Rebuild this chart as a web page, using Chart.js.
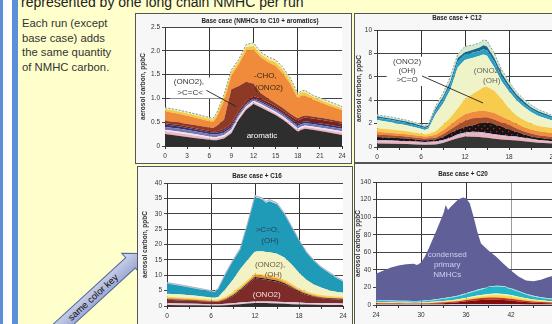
<!DOCTYPE html>
<html><head><meta charset="utf-8">
<script src="https://cdn.jsdelivr.net/npm/chart.js@4.4.1/dist/chart.umd.min.js"></script>
<style>
html,body{margin:0;padding:0;}
body{width:552px;height:324px;overflow:hidden;position:relative;background:#ffffcc;font-family:"Liberation Sans",Arial,sans-serif;}
.abs{position:absolute;}
.panel{position:absolute;box-sizing:border-box;border:1px solid #555;background:#f7f7f7;}
canvas{position:absolute;}
</style></head><body>
<div class="abs" style="left:0;top:0;width:3px;height:324px;background:#5b8fd8"></div>
<div class="abs" style="left:3px;top:0;width:9px;height:324px;background:#ffffff"></div>
<div class="abs" style="left:12px;top:0;width:6px;height:324px;background:#5b8fd8"></div>
<div class="abs" style="left:21px;top:-6px;font-size:14px;line-height:16px;color:#222;white-space:nowrap">represented by one long chain NMHC per run</div>
<div class="abs" style="left:22px;top:16px;font-size:11.3px;line-height:14.6px;color:#333;white-space:nowrap">Each run (except<br>base case) adds<br>the same quantity<br>of NMHC carbon.</div>
<svg class="abs" style="left:0;top:0" width="552" height="324">
  <defs>
    <linearGradient id="ag" gradientUnits="userSpaceOnUse" x1="0" y1="-13" x2="0" y2="13">
      <stop offset="0" stop-color="#d6dcf0"/>
      <stop offset="1" stop-color="#8f9bcb"/>
    </linearGradient>
  </defs>
  <g transform="translate(140.8,253.4) rotate(-42.5)">
    <polygon points="-230,-7 -14,-7 -14,-13 0,0 -14,13 -14,7 -230,7" fill="url(#ag)" stroke="#4f6b9e" stroke-width="1"/>
    <text x="-33" y="3.3" text-anchor="end" font-size="9.5" fill="#111" font-family="Liberation Sans, Arial, sans-serif">same color key</text>
  </g>
</svg>
<div class="panel" style="left:135px;top:13px;width:217px;height:151px"></div>
<div class="panel" style="left:354px;top:13px;width:220px;height:150px"></div>
<div class="panel" style="left:137px;top:166px;width:216px;height:170px"></div>
<div class="panel" style="left:354px;top:163px;width:220px;height:170px"></div>
<canvas id="c1" width="217" height="151" style="left:135px;top:13px"></canvas>
<canvas id="c2" width="222" height="150" style="left:354px;top:13px"></canvas>
<canvas id="c3" width="216" height="158" style="left:137px;top:166px"></canvas>
<canvas id="c4" width="222" height="161" style="left:354px;top:163px"></canvas>
<script>
// ---------- Panel 1: Base case (NMHCs to C10 + aromatics), cumulative layer tops, ppbC ----------
const p1Hours    = [0,2,4,6,6.5,7,8,9,10,11,12,13,14,15,16,17,18,18.5,19,20,22,24];
const p1Aromatic = [0.25,0.21,0.17,0.13,0.12,0.12,0.16,0.27,0.55,0.76,0.88,0.81,0.73,0.65,0.55,0.43,0.30,0.34,0.36,0.34,0.29,0.23];
const p1Pink     = [0.31,0.27,0.22,0.17,0.16,0.16,0.20,0.31,0.59,0.80,0.92,0.85,0.77,0.69,0.59,0.47,0.34,0.38,0.40,0.38,0.33,0.28];
const p1Lav      = [0.34,0.30,0.25,0.20,0.19,0.19,0.23,0.34,0.62,0.83,0.95,0.88,0.80,0.72,0.62,0.50,0.37,0.41,0.43,0.41,0.36,0.31];
const p1Blue     = [0.40,0.36,0.31,0.25,0.24,0.24,0.28,0.39,0.66,0.87,0.98,0.92,0.84,0.76,0.66,0.54,0.42,0.46,0.48,0.46,0.41,0.36];
const p1Navy     = [0.45,0.41,0.35,0.29,0.28,0.28,0.32,0.43,0.69,0.90,1.00,0.95,0.87,0.79,0.69,0.58,0.46,0.50,0.52,0.50,0.45,0.40];
const p1DarkRed  = [0.48,0.44,0.38,0.32,0.31,0.31,0.36,0.48,0.74,0.95,1.05,1.00,0.92,0.84,0.74,0.63,0.53,0.57,0.60,0.58,0.53,0.47];
const p1Brown    = [0.53,0.49,0.44,0.39,0.38,0.42,0.55,1.19,1.26,1.35,1.31,1.11,1.00,0.90,0.80,0.68,0.58,0.62,0.64,0.62,0.57,0.51];
const p1Orange   = [0.73,0.67,0.60,0.52,0.50,0.60,0.95,1.48,1.72,2.00,2.02,1.86,1.76,1.68,1.52,1.30,1.00,1.06,1.06,0.98,0.86,0.75];
const p1Gold     = [0.78,0.72,0.65,0.57,0.55,0.66,1.05,1.56,1.78,2.08,2.10,1.92,1.82,1.76,1.60,1.38,1.07,1.13,1.13,1.04,0.91,0.80];
const p1Top      = [0.81,0.75,0.68,0.60,0.58,0.69,1.08,1.60,1.82,2.13,2.17,1.97,1.87,1.81,1.65,1.43,1.10,1.16,1.17,1.07,0.95,0.83];

// ---------- Panel 2: Base case + C12 ----------
const p2Hours    = [0,2,4,6,6.5,7,8,9,10,11,12,13,14,14.5,15,16,17,18,19,20,21,22,24];
const p2Gray     = [0.30,0.28,0.25,0.20,0.19,0.20,0.22,0.35,0.55,0.75,0.90,0.88,0.85,0.82,0.78,0.70,0.65,0.60,0.55,0.50,0.42,0.36,0.30];
const p2Pink     = [0.50,0.46,0.42,0.35,0.34,0.35,0.38,0.50,0.70,0.95,1.15,1.20,1.18,1.15,1.10,1.00,0.92,0.85,0.80,0.72,0.62,0.55,0.45];
const p2Lav      = [0.60,0.55,0.50,0.45,0.43,0.44,0.48,0.60,0.80,1.10,1.25,1.30,1.28,1.25,1.20,1.10,1.00,0.95,0.90,0.80,0.70,0.60,0.50];
const p2Dots     = [0.85,0.80,0.72,0.60,0.58,0.60,0.65,0.85,1.20,1.50,1.70,1.85,2.00,2.10,2.10,1.95,1.75,1.50,1.30,1.10,0.90,0.80,0.65];
const p2Brown    = [1.05,1.00,0.90,0.75,0.72,0.74,0.80,1.10,1.50,1.90,2.25,2.45,2.50,2.55,2.55,2.35,2.10,1.90,1.60,1.35,1.15,1.00,0.85];
const p2Orange   = [1.30,1.20,1.10,0.95,0.90,0.92,1.05,1.40,1.90,2.40,2.80,3.00,3.10,3.10,3.05,2.90,2.60,2.30,2.00,1.70,1.50,1.35,1.20];
const p2Gold     = [1.60,1.50,1.35,1.15,1.10,1.12,1.35,1.90,2.50,3.30,4.10,4.50,4.90,5.10,5.15,4.80,4.10,3.30,2.70,2.30,2.00,1.80,1.60];
const p2Light    = [2.30,2.10,1.85,1.55,1.45,1.55,2.80,3.70,4.90,6.80,7.45,7.60,7.80,7.90,7.80,6.80,5.60,4.75,4.00,3.45,3.00,2.65,2.25];
const p2Teal     = [2.50,2.30,2.05,1.72,1.62,1.72,3.10,4.10,5.35,7.30,7.90,8.05,8.20,8.35,8.25,7.30,6.00,5.10,4.30,3.70,3.25,2.90,2.45];
const p2DarkTeal = [2.62,2.42,2.18,1.83,1.73,1.83,3.30,4.30,5.60,7.60,8.10,8.30,8.50,8.70,8.60,7.60,6.30,5.35,4.50,3.90,3.40,3.05,2.58];
const p2Top      = [2.75,2.55,2.30,1.95,1.85,1.95,3.50,4.60,6.00,7.90,8.60,8.70,8.90,9.15,9.10,8.00,6.60,5.60,4.70,4.10,3.60,3.20,2.70];

// ---------- Panel 3: Base case + C16 ----------
const p3Hours    = [0,2,4,6,6.5,7,8,9,10,11,12,13,13.5,14,15,16,17,18,19,20,21,22,23,24];
const p3Gray     = [0.30,0.28,0.25,0.20,0.20,0.20,0.25,0.40,0.60,0.80,0.95,0.95,0.95,0.90,0.85,0.75,0.60,0.50,0.45,0.40,0.35,0.32,0.30,0.30];
const p3Pink     = [0.60,0.55,0.50,0.40,0.40,0.40,0.50,0.65,0.85,1.00,1.20,1.20,1.20,1.20,1.10,1.00,0.90,0.80,0.75,0.70,0.65,0.60,0.60,0.60];
const p3Lav      = [0.90,0.80,0.75,0.60,0.60,0.60,0.70,0.90,1.10,1.30,1.50,1.50,1.50,1.50,1.40,1.30,1.20,1.10,1.00,0.95,0.90,0.90,0.90,0.85];
const p3Maroon   = [2.0,1.8,1.6,1.4,1.35,1.4,2.0,3.2,5.0,7.0,9.0,8.7,8.5,8.3,7.9,7.0,5.9,4.5,3.6,3.0,2.6,2.3,2.2,2.0];
const p3Black    = [2.2,2.0,1.8,1.5,1.45,1.5,2.2,3.5,5.3,7.4,9.4,9.1,8.9,8.7,8.3,7.4,6.2,4.8,3.9,3.2,2.8,2.5,2.4,2.3];
const p3Orange   = [2.6,2.4,2.1,1.8,1.7,1.8,2.6,4.0,5.8,8.0,10.2,9.8,9.6,9.5,9.0,8.0,6.7,5.2,4.3,3.6,3.1,2.8,2.7,2.6];
const p3Gold     = [3.0,2.8,2.5,2.1,2.0,2.1,3.0,4.6,6.5,8.5,10.6,10.3,10.1,10.0,9.5,8.6,7.3,5.7,4.8,4.1,3.6,3.3,3.1,3.0];
const p3Light    = [4.0,3.7,3.3,2.8,2.7,2.9,5.5,8.5,12.0,15.0,17.7,17.8,17.6,17.5,17.0,15.8,13.5,10.8,8.5,7.0,6.0,5.2,4.6,4.3];
const p3Teal     = [7.3,6.5,5.6,4.75,4.45,5.5,10.3,14.6,18.4,26.5,35.4,34.6,33.6,34.1,33.1,29.8,25.5,21.2,17.4,14.7,12.5,10.9,9.3,8.0];
const p3Top      = [7.6,6.8,5.9,5.0,4.7,5.8,10.7,15.0,18.8,27.0,35.9,35.1,34.0,34.6,33.5,30.2,25.9,21.5,17.7,15.0,12.8,11.2,9.6,8.3];

// ---------- Panel 4: Base case + C20 (second day, hours 24-48) ----------
const p4Hours    = [24,25,26,27,28,29,29.5,30,30.5,31,32,33,33.3,33.6,34,35,35.6,36,36.5,37,37.5,38,39,40,41,42,43,44,45,46,47,48];
const p4Lav      = [0.6,0.6,0.6,0.6,0.6,0.6,0.6,0.6,0.6,0.6,0.7,0.7,0.7,0.7,0.8,0.8,0.8,0.9,0.9,0.9,1.0,1.0,1.0,1.0,1.0,0.9,0.8,0.7,0.7,0.6,0.6,0.6];
const p4Maroon   = [1.5,1.4,1.3,1.3,1.2,1.2,1.2,1.2,1.3,1.4,1.7,2.0,2.2,2.3,2.5,3.1,3.6,4.0,4.5,4.9,5.3,5.6,6.0,6.0,5.7,5.0,4.1,3.3,2.7,2.3,2.0,1.8];
const p4Red      = [2.2,2.1,2.0,1.9,1.8,1.7,1.7,1.8,1.9,2.1,2.5,3.0,3.2,3.4,3.6,4.4,5.1,5.6,6.2,6.8,7.4,7.9,8.5,8.5,8.1,7.2,6.0,4.9,4.0,3.4,3.0,2.7];
const p4Gold     = [3.0,2.8,2.6,2.5,2.4,2.3,2.3,2.4,2.6,2.9,3.4,4.0,4.3,4.5,4.8,5.8,6.7,7.3,8.0,8.7,9.5,10.1,11.1,11.5,11.1,10.0,8.4,6.9,5.6,4.7,4.1,3.7];
const p4Light    = [3.4,3.2,3.0,2.9,2.8,2.7,2.7,2.8,3.0,3.3,3.9,4.6,4.9,5.2,5.5,6.6,7.6,8.3,9.1,9.9,10.8,11.5,12.6,13.0,12.6,11.3,9.5,7.8,6.3,5.3,4.6,4.2];
const p4Teal     = [4.8,4.5,4.3,4.1,4.0,3.9,3.9,4.1,4.4,4.8,5.8,7.0,7.4,7.8,8.3,10.0,11.5,12.5,13.8,15.0,16.3,17.5,19.8,21.0,20.5,18.0,15.0,12.0,9.5,8.0,6.8,6.0];
const p4LightTeal= [5.5,5.2,5.0,4.8,4.7,4.6,4.6,4.8,5.1,5.5,6.6,7.8,8.2,8.6,9.1,10.9,12.4,13.4,14.7,16.0,17.3,18.5,20.8,22.0,21.5,19.0,16.0,12.9,10.4,8.8,7.6,6.8];
const p4Purple   = [35.6,39.3,42.8,45.0,46.5,47.0,45.4,48.4,55.0,63.6,83.6,104.4,113.9,108.2,112.0,120.3,122.5,121.5,115.8,100.6,83.6,70.0,62.0,55.2,47.0,39.3,32.5,28.0,26.9,28.8,31.8,34.0];

const yTitle = 'aerosol carbon, ppbC';
const titles = ['Base case (NMHCs to C10 + aromatics)','Base case + C12','Base case + C16','Base case + C20'];

const FONT = '"Liberation Sans", Arial, sans-serif';
const CLEAR = 'rgba(0,0,0,0)';

function dotPattern(ctx){
  const c = document.createElement('canvas'); c.width = 6; c.height = 6;
  const g = c.getContext('2d');
  g.fillStyle = '#141414'; g.fillRect(0,0,6,6);
  g.fillStyle = '#c3262a'; g.fillRect(1,1,1.3,1.3); g.fillRect(4,4,1.3,1.3);
  return ctx.createPattern(c,'repeat');
}

function decor(spec){
  return {
    id: 'decor',
    beforeDraw(chart){
      const {ctx, chartArea:a} = chart;
      ctx.save(); ctx.fillStyle = '#ffffff';
      ctx.fillRect(a.left, a.top, a.right-a.left, a.bottom-a.top); ctx.restore();
    },
    afterDraw(chart){
      const {ctx} = chart; const xs = chart.scales.x, ys = chart.scales.y;
      ctx.save();
      ctx.font = 'bold 6.3px ' + FONT; ctx.fillStyle = '#222';
      ctx.textAlign = 'center'; ctx.textBaseline = 'middle';
      ctx.fillText(spec.title, spec.titlePos[0], spec.titlePos[1]);
      (spec.boxes||[]).forEach(b => {
        const x0 = xs.getPixelForValue(b[0]), y0 = ys.getPixelForValue(b[1]);
        const x1 = xs.getPixelForValue(b[2]), y1 = ys.getPixelForValue(b[3]);
        ctx.fillStyle = '#ffffff'; ctx.fillRect(x0, y0, x1-x0, y1-y0);
      });
      (spec.leaders||[]).forEach(l => {
        ctx.strokeStyle = '#222'; ctx.lineWidth = 0.9; ctx.beginPath();
        ctx.moveTo(xs.getPixelForValue(l[0]), ys.getPixelForValue(l[1]));
        ctx.lineTo(xs.getPixelForValue(l[2]), ys.getPixelForValue(l[3]));
        ctx.stroke();
      });
      (spec.labels||[]).forEach(l => {
        ctx.font = (l.size||8) + 'px ' + FONT; ctx.fillStyle = l.color;
        ctx.fillText(l.text, xs.getPixelForValue(l.x), ys.getPixelForValue(l.y));
      });
      ctx.restore();
    }
  };
}

function makeChart(id, spec){
  const cv = document.getElementById(id);
  const ctx = cv.getContext('2d');
  const W = cv.width, H = cv.height, P = spec.plot;
  const datasets = spec.layers.map((L,i) => ({
    data: spec.hours.map((t,k) => ({x:t, y:L.v[k]})),
    backgroundColor: L.c === 'DOTS' ? dotPattern(ctx) : L.c,
    borderColor: L.b || CLEAR,
    borderWidth: L.b ? (L.bw || 1) : 0,
    borderDash: L.dash || [],
    fill: i === 0 ? 'origin' : '-1',
    pointRadius: 0, tension: 0
  }));
  return new Chart(ctx, {
    type: 'line',
    data: { datasets },
    options: {
      responsive: false, animation: false, devicePixelRatio: 1,
      layout: { padding: { left: 0, top: P.top, right: W - P.right, bottom: 0 } },
      plugins: { legend: {display:false}, tooltip: {enabled:false}, title: {display:false} },
      scales: {
        x: {
          type: 'linear', min: spec.xmin, max: spec.xmax, z: 1,
          ticks: { stepSize: 3, autoSkip: false, maxRotation: 0, padding: 3.5, color: '#333',
                   font: {family: FONT, size: 6.5},
                   callback: v => ((v - spec.xmin) % spec.labelEvery === 0) ? String(v) : '' },
          grid: { color: c => {
                    const v = c.tick ? c.tick.value : null;
                    if (v === null || v % 6 !== 0 || v === spec.xmin || v === spec.xmax) return CLEAR;
                    return (spec.lightV || []).includes(v) ? '#9a9a9a' : '#333';
                  },
                  tickColor: '#333', tickLength: 3, lineWidth: 1 },
          border: { display: true, color: '#333', width: 1 },
          afterFit: s => { s.height = H - P.bottom; }
        },
        y: {
          min: 0, max: spec.ymax, z: 1,
          ticks: { stepSize: spec.ystep, padding: 2, color: '#333', font: {family: FONT, size: 6.5} },
          grid: { color: '#444', tickColor: '#444', tickLength: 3, lineWidth: 1 },
          border: { display: true, color: '#333', width: 1 },
          title: { display: true, text: yTitle, color: '#333',
                   font: {family: FONT, size: 6.5, weight: 'bold'},
                   padding: { top: spec.ytPad, bottom: 0 } },
          afterFit: s => { s.width = P.left; }
        }
      }
    },
    plugins: [decor(spec)]
  });
}

makeChart('c1', {
  hours: p1Hours, xmin: 0, xmax: 24, labelEvery: 3, ymax: 2.5, ystep: 0.5, ytPad: 4.1,
  plot: {left: 30, top: 14, right: 207, bottom: 133},
  title: titles[0], titlePos: [125, 8],
  layers: [
    {v: p1Aromatic, c: '#2e2e2e'}, {v: p1Pink, c: '#f0b4bf'}, {v: p1Lav, c: '#ece6f2'},
    {v: p1Blue, c: '#7676b6'}, {v: p1Navy, c: '#33336e'}, {v: p1DarkRed, c: '#7c2018'},
    {v: p1Brown, c: '#8e3826'}, {v: p1Orange, c: '#ef8b3b'}, {v: p1Gold, c: '#f7c948'},
    {v: p1Top, c: '#f3f0b8', b: '#6e9c9c', bw: 1, dash: [2,1.5]}
  ],
  boxes: [[0.68, 1.44, 7.6, 1.0]],
  leaders: [[5.6, 1.17, 9.63, 0.83]],
  labels: [
    {text: '(ONO2),', x: 3.25, y: 1.35, color: '#333'},
    {text: '>C=C<', x: 3.4, y: 1.12, color: '#333'},
    {text: '-CHO,', x: 13.6, y: 1.48, color: '#3a2a1a'},
    {text: '(ONO2)', x: 14.1, y: 1.23, color: '#3a2a1a'},
    {text: 'aromatic', x: 13.15, y: 0.22, color: '#ffffff'}
  ]
});

makeChart('c2', {
  hours: p2Hours, xmin: 0, xmax: 24, labelEvery: 6, ymax: 10, ystep: 2, ytPad: 1.1,
  plot: {left: 23, top: 17, right: 199, bottom: 134},
  title: titles[1], titlePos: [103, 5],
  layers: [
    {v: p2Gray, c: '#353535'}, {v: p2Pink, c: '#eeb2bb'}, {v: p2Lav, c: '#b9b0d8'},
    {v: p2Dots, c: 'DOTS'}, {v: p2Brown, c: '#a94f2e'}, {v: p2Orange, c: '#f08c3e'},
    {v: p2Gold, c: '#f7cb4d'}, {v: p2Light, c: '#eef3c8'}, {v: p2Teal, c: '#2b9fc2'},
    {v: p2DarkTeal, c: '#1d6688'}, {v: p2Top, c: '#d6ead2', b: '#8aa0a0', bw: 1, dash: [2,1.5]}
  ],
  boxes: [[1.32, 7.72, 7.0, 5.21]],
  leaders: [[6.14, 6.07, 14.46, 3.76]],
  labels: [
    {text: '(ONO2)', x: 4.1, y: 7.26, color: '#444'},
    {text: '(OH)', x: 4.1, y: 6.5, color: '#444'},
    {text: '>C=O', x: 4.1, y: 5.73, color: '#444'},
    {text: '(ONO2)', x: 15.1, y: 6.5, color: '#666'},
    {text: '(OH)', x: 15.65, y: 5.64, color: '#666'}
  ]
});

makeChart('c3', {
  hours: p3Hours, xmin: 0, xmax: 24, labelEvery: 6, ymax: 40, ystep: 5, ytPad: 4.1,
  plot: {left: 30, top: 17, right: 206, bottom: 140},
  title: titles[2], titlePos: [120, 10],
  layers: [
    {v: p3Gray, c: '#2e2e2e'}, {v: p3Pink, c: '#efb5c0'}, {v: p3Lav, c: '#d6cde6'},
    {v: p3Maroon, c: '#7d2b29'}, {v: p3Black, c: '#1a1a1a'}, {v: p3Orange, c: '#f09032'},
    {v: p3Gold, c: '#f8d452'}, {v: p3Light, c: '#f2f2c4'}, {v: p3Teal, c: '#1f9bb7'},
    {v: p3Top, c: '#d5dbe6', b: '#aab0c4', bw: 1}
  ],
  labels: [
    {text: '>C=O,', x: 13.7, y: 24.7, color: '#2c4060'},
    {text: '(OH)', x: 14.05, y: 21.2, color: '#2c4060'},
    {text: '(ONO2),', x: 14.05, y: 13.3, color: '#6a5a40'},
    {text: '(OH)', x: 14.5, y: 10.1, color: '#6a5a40'},
    {text: '(ONO2)', x: 13.6, y: 3.6, color: '#f5dede'}
  ]
});

makeChart('c4', {
  hours: p4Hours, xmin: 24, xmax: 48, labelEvery: 6, ymax: 140, ystep: 20, ytPad: 0,
  plot: {left: 22, top: 19, right: 202, bottom: 142}, lightV: [42],
  title: titles[3], titlePos: [109, 11],
  layers: [
    {v: p4Lav, c: '#d4c4e6'}, {v: p4Maroon, c: '#7e0c0c'}, {v: p4Red, c: '#c8341e'},
    {v: p4Gold, c: '#f7dc4e'}, {v: p4Light, c: '#f6f2b8'}, {v: p4Teal, c: '#22b6c8'},
    {v: p4LightTeal, c: '#9ee0e4'}, {v: p4Purple, c: '#605f98'}
  ],
  labels: [
    {text: 'condensed', x: 33.5, y: 56.9, color: '#cfd0ee'},
    {text: 'primary', x: 33.5, y: 45.5, color: '#cfd0ee'},
    {text: 'NMHCs', x: 33.5, y: 34.1, color: '#cfd0ee'}
  ]
});
</script>
</body></html>
